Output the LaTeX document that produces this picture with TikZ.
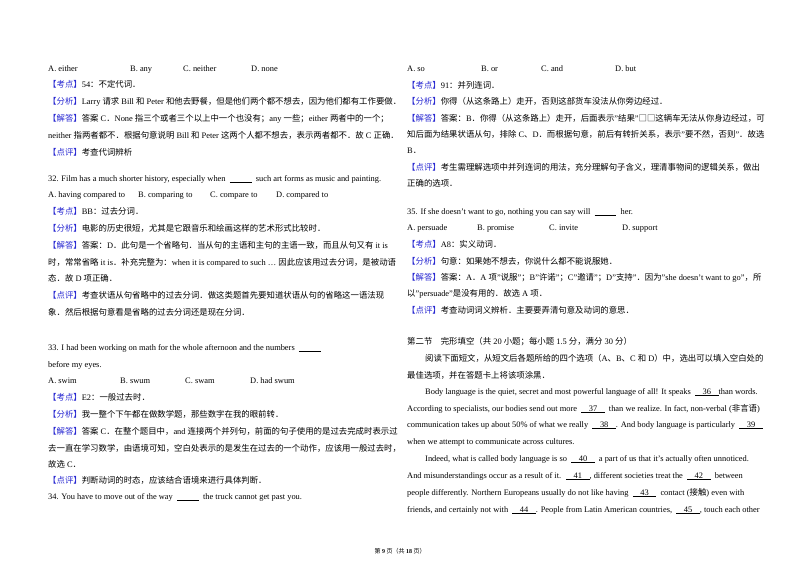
\documentclass[tikz,border=0pt]{standalone}
\usepackage{fontspec}
\setmainfont{Liberation Serif}
\newfontfamily\cjkf{Noto Sans CJK SC}
\newcommand\zh[1]{{\cjkf #1}}
\definecolor{labblue}{RGB}{40,40,210}
\newcommand\lab[1]{\textcolor{labblue}{\zh{【#1】}}}
\newcommand\bl{\underline{\hspace{2.6em}}}
\newcommand\nb[1]{\underline{\hspace{0.9em}#1\hspace{0.9em}}}
\newcommand\tl[4]{\node[txt] (#1) at (#2,-#3) {#4};}
\begin{document}
\begin{tikzpicture}[x=1pt,y=1pt,txt/.style={anchor=base west,inner sep=0pt,font=\fontsize{8.4}{10}\selectfont}]
\useasboundingbox (0,0) rectangle (800,-565);
\fill[white] (0,0) rectangle (800,-565);
% left column
\tl{a1}{48}{71}{A. either}\tl{a2}{130}{71}{B. any}\tl{a3}{183}{71}{C. neither}\tl{a4}{251}{71}{D. none}
\tl{l1}{48}{87}{\lab{考点}54\zh{：不定代词．}}
\tl{l2}{48}{104}{\lab{分析}Larry \zh{请求} Bill \zh{和} Peter \zh{和他去野餐，但是他们两个都不想去，因为他们都有工作要做．}}
\tl{l3}{48}{121}{\lab{解答}\zh{答案} C\zh{．}None \zh{指三个或者三个以上中一个也没有；}any \zh{一些；}either \zh{两者中的一个；}}
\tl{l4}{48}{138}{neither \zh{指两者都不．根据句意说明} Bill \zh{和} Peter \zh{这两个人都不想去，表示两者都不．故} C \zh{正确．}}
\tl{l5}{48}{155}{\lab{点评}\zh{考查代词辨析}}
\tl{q32}{48}{181}{32. Film has a much shorter history, especially when \ \bl\ \ such art forms as music and painting.}
\tl{b1}{48}{197}{A. having compared to}\tl{b2}{138}{197}{B. comparing to}\tl{b3}{210}{197}{C. compare to}\tl{b4}{276}{197}{D. compared to}
\tl{l6}{48}{214}{\lab{考点}BB\zh{：过去分词．}}
\tl{l7}{48}{231}{\lab{分析}\zh{电影的历史很短，尤其是它跟音乐和绘画这样的艺术形式比较时．}}
\tl{l8}{48}{248}{\lab{解答}\zh{答案：}D\zh{．此句是一个省略句．当从句的主语和主句的主语一致，而且从句又有} it is}
\tl{l9}{48}{265}{\zh{时，常常省略} it is\zh{．补充完整为：}when it is compared to such … \zh{因此应该用过去分词，是被动语}}
\tl{l10}{48}{281}{\zh{态．故} D \zh{项正确．}}
\tl{l11}{48}{298}{\lab{点评}\zh{考查状语从句省略中的过去分词．做这类题首先要知道状语从句的省略这一语法现}}
\tl{l12}{48}{315}{\zh{象．然后根据句意看是省略的过去分词还是现在分词．}}
\tl{q33}{48}{350}{33. I had been working on math for the whole afternoon and the numbers \ \bl}
\tl{q33b}{48}{367}{before my eyes.}
\tl{c1}{48}{383}{A. swim}\tl{c2}{120}{383}{B. swum}\tl{c3}{185}{383}{C. swam}\tl{c4}{250}{383}{D. had swum}
\tl{l13}{48}{400}{\lab{考点}E2\zh{：一般过去时．}}
\tl{l14}{48}{417}{\lab{分析}\zh{我一整个下午都在做数学题，那些数字在我的眼前转．}}
\tl{l15}{48}{434}{\lab{解答}\zh{答案} C\zh{．在整个题目中，}and \zh{连接两个并列句，前面的句子使用的是过去完成时表示过}}
\tl{l16}{48}{451}{\zh{去一直在学习数学，由语境可知，空白处表示的是发生在过去的一个动作，应该用一般过去时，}}
\tl{l17}{48}{467}{\zh{故选} C\zh{．}}
\tl{l18}{48}{483}{\lab{点评}\zh{判断动词的时态，应该结合语境来进行具体判断．}}
\tl{q34}{48}{499}{34. You have to move out of the way \ \bl\ \ the truck cannot get past you.}
% right column
\tl{r1}{407}{71}{A. so}\tl{r2}{481}{71}{B. or}\tl{r3}{541}{71}{C. and}\tl{r4}{615}{71}{D. but}
\tl{m1}{407}{88}{\lab{考点}91\zh{：并列连词．}}
\tl{m2}{407}{104}{\lab{分析}\zh{你得（从这条路上）走开，否则这部货车没法从你旁边经过．}}
\tl{m3}{407}{121}{\lab{解答}\zh{答案：}B\zh{．你得（从这条路上）走开，后面表示}"\zh{结果}"\zh{□□这辆车无法从你身边经过，可}}
\tl{m4}{407}{137}{\zh{知后面为结果状语从句，排除} C\zh{、}D\zh{．而根据句意，前后有转折关系，表示}"\zh{要不然，否则}"\zh{．故选}}
\tl{m5}{407}{153}{B\zh{．}}
\tl{m6}{407}{170}{\lab{点评}\zh{考生需理解选项中并列连词的用法，充分理解句子含义，理清事物间的逻辑关系，做出}}
\tl{m7}{407}{186}{\zh{正确的选项．}}
\tl{q35}{407}{214}{35. If she doesn't want to go, nothing you can say will \ \bl\ \ her.}
\tl{d1}{407}{230}{A. persuade}\tl{d2}{477}{230}{B. promise}\tl{d3}{549}{230}{C. invite}\tl{d4}{622}{230}{D. support}
\tl{m8}{407}{247}{\lab{考点}A8\zh{：实义动词．}}
\tl{m9}{407}{264}{\lab{分析}\zh{句意：如果她不想去，你说什么都不能说服她．}}
\tl{m10}{407}{280}{\lab{解答}\zh{答案：}A\zh{．}A \zh{项}"\zh{说服}"\zh{；}B"\zh{许诺}"\zh{；}C"\zh{邀请}"\zh{；}D"\zh{支持}"\zh{．因为}"she doesn't want to go"\zh{，所}}
\tl{m11}{407}{296}{\zh{以}"persuade"\zh{是没有用的．故选} A \zh{项．}}
\tl{m12}{407}{313}{\lab{点评}\zh{考查动词词义辨析．主要要弄清句意及动词的意思．}}
\tl{m13}{407}{344}{\zh{第二节\quad 完形填空（共} 20 \zh{小题；每小题} 1.5 \zh{分，满分} 30 \zh{分）}}
\tl{m14}{425}{361}{\zh{阅读下面短文，从短文后各题所给的四个选项（}A\zh{、}B\zh{、}C \zh{和} D\zh{）中，选出可以填入空白处的}}
\tl{m15}{407}{378}{\zh{最佳选项，并在答题卡上将该项涂黑．}}
\tl{p1}{425}{394}{Body language is the quiet, secret and most powerful language of all! It speaks \ \nb{36}than words.}
\tl{p2}{407}{411}{According to specialists, our bodies send out more \ \nb{37}\ \ than we realize. In fact, non-verbal (\zh{非言语})}
\tl{p3}{407}{427}{communication takes up about 50\% of what we really \ \nb{38}. And body language is particularly \ \nb{39}}
\tl{p4}{407}{444}{when we attempt to communicate across cultures.}
\tl{p5}{425}{461}{Indeed, what is called body language is so \ \nb{40}\ \ a part of us that it's actually often unnoticed.}
\tl{p6}{407}{478}{And misunderstandings occur as a result of it. \ \nb{41}, different societies treat the \ \nb{42}\ \ between}
\tl{p7}{407}{495}{people differently. Northern Europeans usually do not like having \ \nb{43}\ \ contact (\zh{接触}) even with}
\tl{p8}{407}{512}{friends, and certainly not with \ \nb{44}. People from Latin American countries, \ \nb{45}, touch each other}
\node[txt,anchor=base,font=\fontsize{6}{7}\selectfont] (ft) at (400,-553) {\zh{第} \textbf{9} \zh{页（共} \textbf{18} \zh{页）}};
\end{tikzpicture}
\end{document}
